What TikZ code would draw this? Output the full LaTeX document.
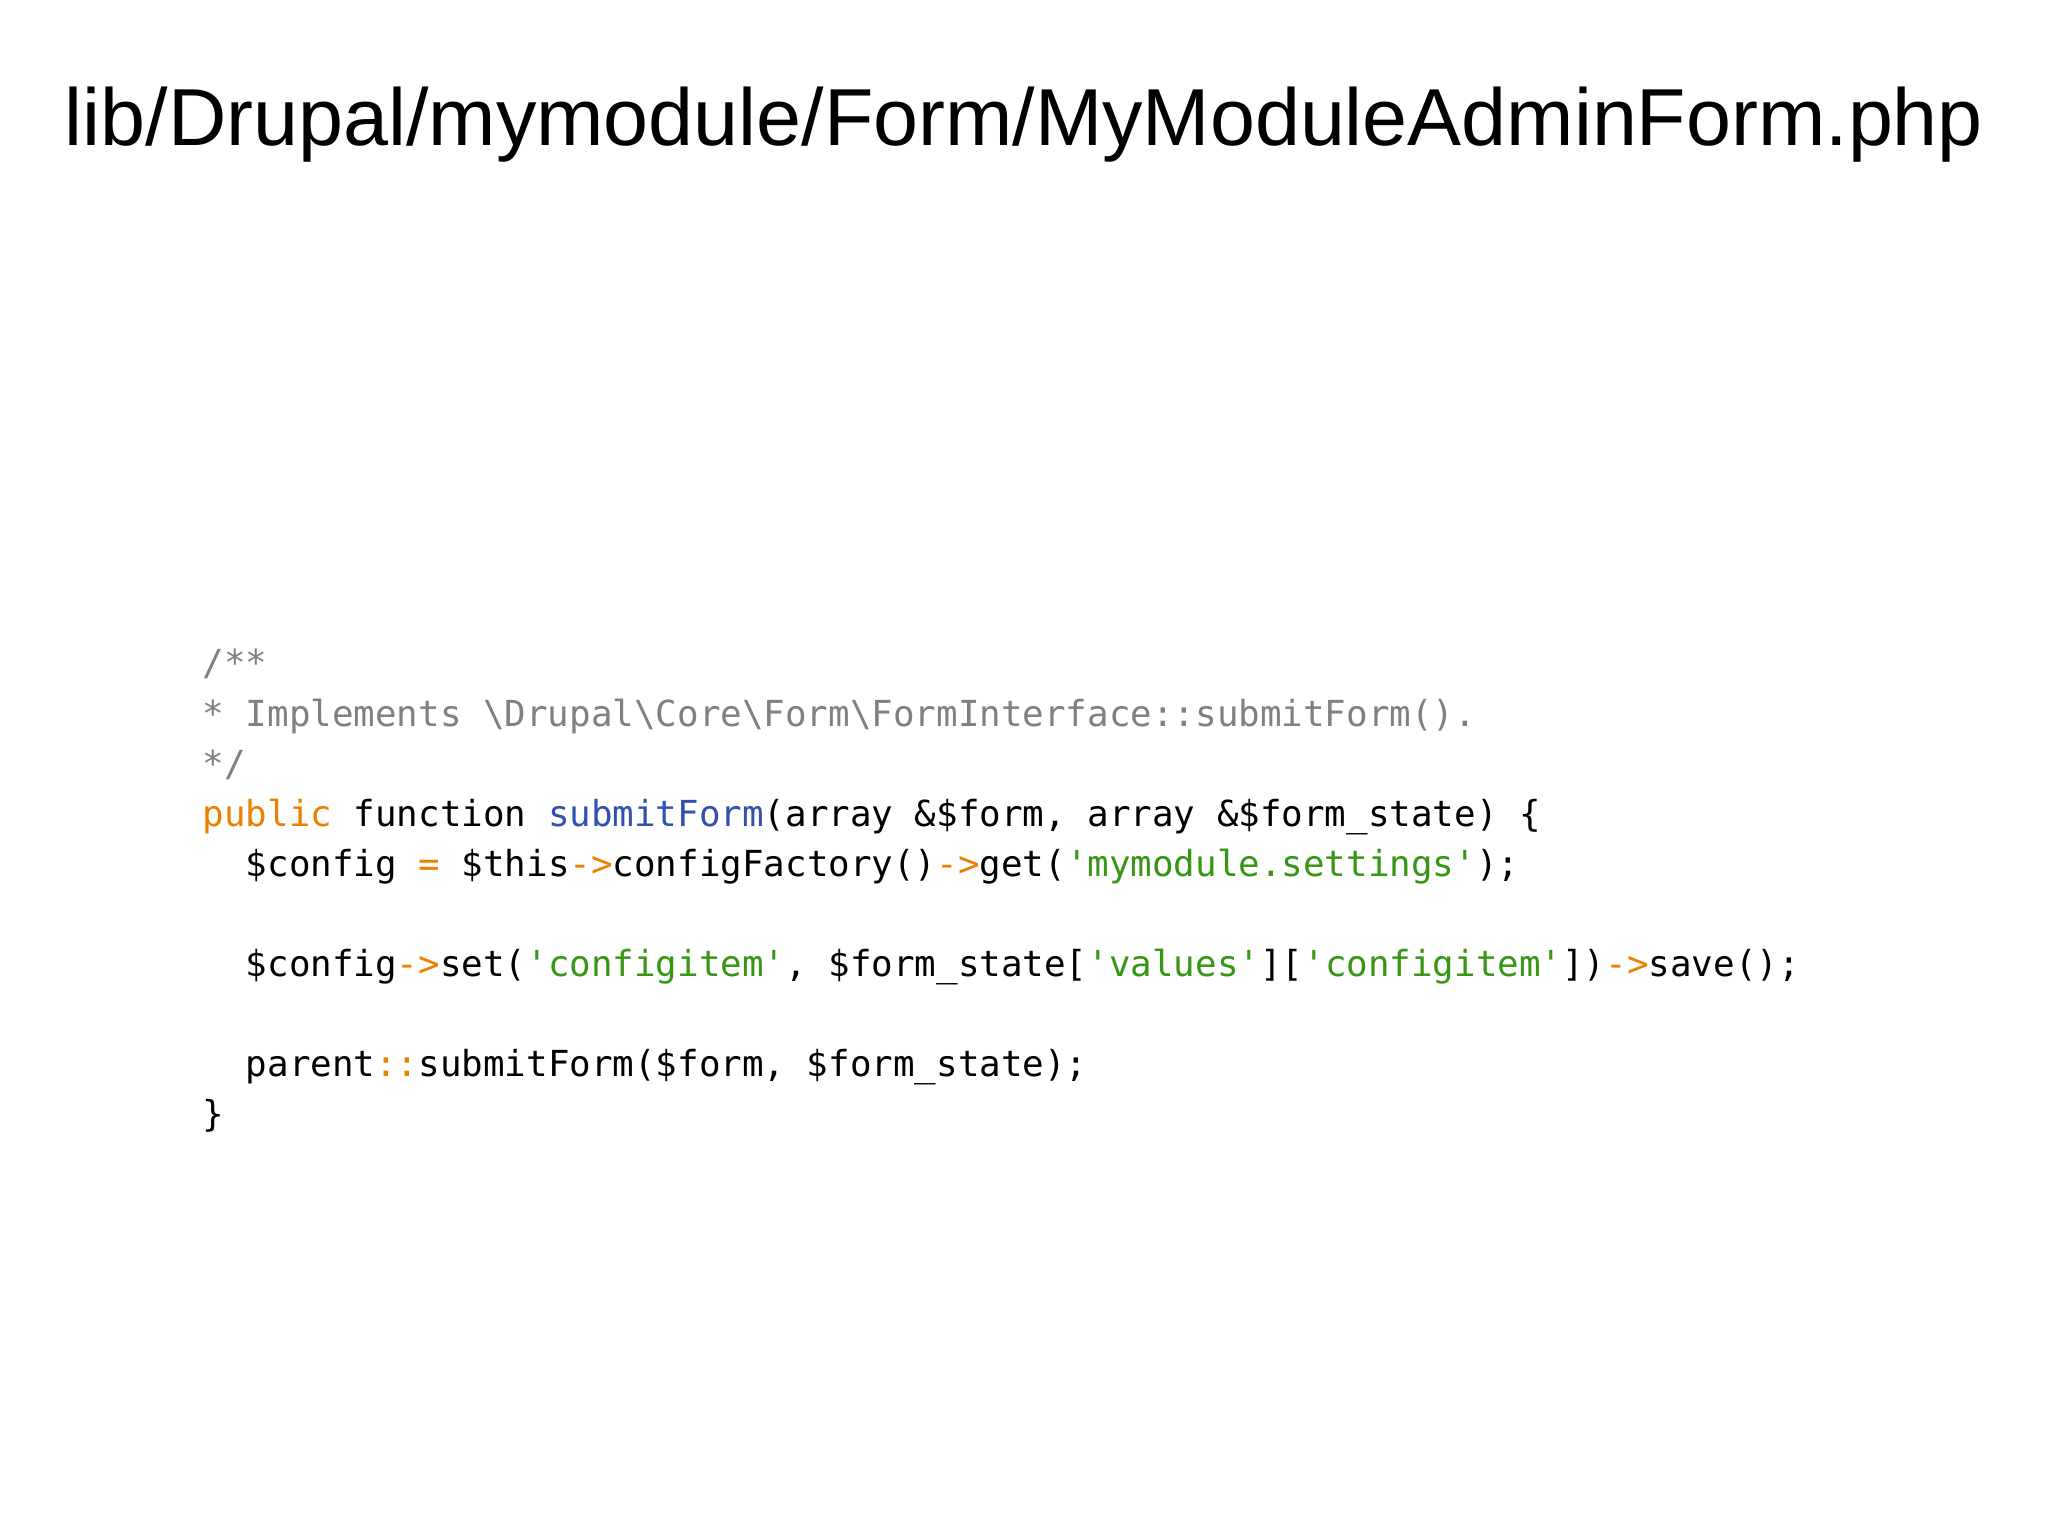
\documentclass[tikz,border=0pt]{standalone}
\usepackage{fontspec}
\setmainfont{Liberation Sans}
\newfontfamily\codefont{DejaVu Sans Mono}
\definecolor{cmt}{RGB}{128,128,128}
\definecolor{kw}{RGB}{236,128,0}
\definecolor{fn}{RGB}{50,80,175}
\definecolor{str}{RGB}{55,150,20}
\begin{document}
\begin{tikzpicture}[x=1cm,y=1cm,
  code/.style={anchor=base west,inner sep=0pt,font=\codefont\fontsize{10.2pt}{12pt}\selectfont}]
\useasboundingbox (0,0) rectangle (20.48,15.36);
\fill[white] (0,0) rectangle (20.48,15.36);
\node[font=\fontsize{23pt}{28pt}\selectfont,inner sep=0pt,anchor=base] (title) at (10.24,13.9) {lib/Drupal/mymodule/Form/MyModuleAdminForm.php};
\def\X{2.02}
\node[code] (l1) at (\X,8.60) {\textcolor{cmt}{/**}};
\node[code] (l2) at (\X,8.09) {\textcolor{cmt}{ * Implements \textbackslash Drupal\textbackslash Core\textbackslash Form\textbackslash FormInterface::submitForm().}};
\node[code] (l3) at (\X,7.59) {\textcolor{cmt}{ */}};
\node[code] (l4) at (\X,7.09) {\textcolor{kw}{public} function \textcolor{fn}{submitForm}(array \&\$form, array \&\$form\_state) \{};
\node[code] (l5) at (\X,6.59) {\ \ \$config \textcolor{kw}{=} \$this\textcolor{kw}{->}configFactory()\textcolor{kw}{->}get(\textcolor{str}{'mymodule.settings'});};
\node[code] (l6) at (\X,5.59) {\ \ \$config\textcolor{kw}{->}set(\textcolor{str}{'configitem'}, \$form\_state[\textcolor{str}{'values'}][\textcolor{str}{'configitem'}])\textcolor{kw}{->}save();};
\node[code] (l7) at (\X,4.59) {\ \ parent\textcolor{kw}{::}submitForm(\$form, \$form\_state);};
\node[code] (l8) at (\X,4.09) {\}};
\end{tikzpicture}
\end{document}
